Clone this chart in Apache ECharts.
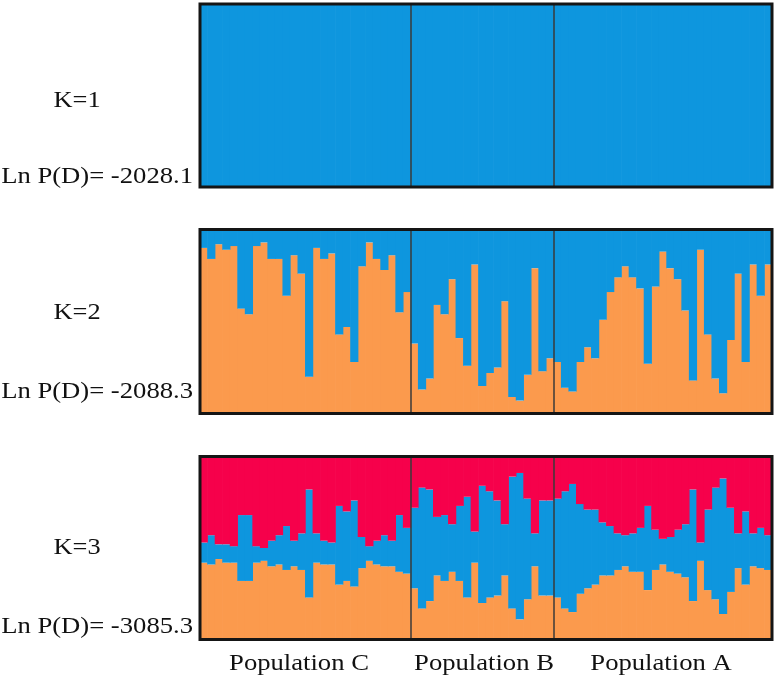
<!DOCTYPE html>
<html>
<head>
<meta charset="utf-8">
<script src="https://cdn.jsdelivr.net/npm/echarts@6/dist/echarts.min.js"></script>
<style>
  html, body { margin: 0; background: #fff; }
  #chart { width: 779px; height: 683px; }
</style>
</head>
<body>
<div id="chart"></div>
<script>
// individuals per population, left to right
const populations = ['Population C', 'Population B', 'Population A'];
const popSizes = [28, 19, 29];
const kLabels = ['K=1', 'K=2', 'K=3'];
const lnPD = ['Ln P(D)= -2028.1', 'Ln P(D)= -2088.3', 'Ln P(D)= -3085.3'];

// K=1 : single cluster
const k1Blue = [
  1,1,1,1,1,1,1,1,1,1,1,1,1,1,1,1,1,1,1,1,1,1,1,1,1,1,1,1,
  1,1,1,1,1,1,1,1,1,1,1,1,1,1,1,1,1,1,1,
  1,1,1,1,1,1,1,1,1,1,1,1,1,1,1,1,1,1,1,1,1,1,1,1,1,1,1,1,1
];

// K=2 membership
const k2Orange = [
  0.90,0.84,0.92,0.89,0.91,0.57,0.54,0.91,0.93,0.84,0.84,0.64,0.86,0.76,0.20,0.90,0.84,0.87,0.43,0.47,0.28,0.80,0.93,0.84,0.78,0.86,0.55,0.66,
  0.38,0.13,0.19,0.59,0.54,0.73,0.41,0.26,0.81,0.15,0.22,0.25,0.61,0.09,0.07,0.21,0.79,0.23,0.30,
  0.28,0.14,0.12,0.28,0.36,0.30,0.51,0.66,0.74,0.80,0.74,0.68,0.27,0.69,0.88,0.79,0.73,0.56,0.18,0.89,0.43,0.19,0.11,0.40,0.76,0.28,0.81,0.64,0.81
];
const k2Blue = [
  0.10,0.16,0.08,0.11,0.09,0.43,0.46,0.09,0.07,0.16,0.16,0.36,0.14,0.24,0.80,0.10,0.16,0.13,0.57,0.53,0.72,0.20,0.07,0.16,0.22,0.14,0.45,0.34,
  0.62,0.87,0.81,0.41,0.46,0.27,0.59,0.74,0.19,0.85,0.78,0.75,0.39,0.91,0.93,0.79,0.21,0.77,0.70,
  0.72,0.86,0.88,0.72,0.64,0.70,0.49,0.34,0.26,0.20,0.26,0.32,0.73,0.31,0.12,0.21,0.27,0.44,0.82,0.11,0.57,0.81,0.89,0.60,0.24,0.72,0.19,0.36,0.19
];

// K=3 membership
const k3Orange = [
  0.42,0.41,0.44,0.42,0.42,0.32,0.32,0.42,0.43,0.40,0.41,0.38,0.40,0.38,0.23,0.42,0.41,0.41,0.30,0.32,0.29,0.39,0.43,0.41,0.40,0.40,0.37,0.36,
  0.28,0.17,0.21,0.35,0.32,0.37,0.32,0.23,0.42,0.20,0.23,0.24,0.35,0.17,0.11,0.22,0.40,0.24,0.24,
  0.23,0.17,0.15,0.25,0.28,0.30,0.35,0.35,0.38,0.40,0.37,0.37,0.27,0.38,0.41,0.37,0.36,0.34,0.21,0.43,0.27,0.22,0.14,0.26,0.39,0.30,0.40,0.39,0.38
];
const k3Blue = [
  0.11,0.16,0.08,0.10,0.09,0.36,0.36,0.09,0.07,0.14,0.16,0.24,0.14,0.20,0.59,0.16,0.13,0.12,0.43,0.38,0.47,0.17,0.08,0.13,0.17,0.14,0.31,0.25,
  0.44,0.66,0.61,0.32,0.36,0.26,0.41,0.55,0.17,0.64,0.58,0.52,0.28,0.72,0.80,0.55,0.18,0.52,0.52,
  0.54,0.64,0.70,0.49,0.43,0.41,0.29,0.27,0.20,0.17,0.21,0.24,0.46,0.22,0.14,0.19,0.24,0.29,0.61,0.10,0.44,0.61,0.74,0.46,0.19,0.40,0.18,0.22,0.19
];
const k3Red = [
  0.47,0.43,0.48,0.48,0.49,0.32,0.32,0.49,0.50,0.46,0.43,0.38,0.46,0.42,0.18,0.42,0.46,0.47,0.27,0.30,0.24,0.44,0.49,0.46,0.43,0.46,0.32,0.39,
  0.28,0.17,0.18,0.33,0.32,0.37,0.27,0.22,0.41,0.16,0.19,0.24,0.37,0.11,0.09,0.23,0.42,0.24,0.24,
  0.23,0.19,0.15,0.26,0.29,0.29,0.36,0.38,0.42,0.43,0.42,0.39,0.27,0.40,0.45,0.44,0.40,0.37,0.18,0.47,0.29,0.17,0.12,0.28,0.42,0.30,0.42,0.39,0.43
];

const BLUE = '#0e96de', ORANGE = '#fb9a4d', RED = '#f6014b';

const nInd = popSizes.reduce((a, b) => a + b, 0);
const ids = k1Blue.map((v, i) => String(i + 1));
// population boundaries (28, 47)
const bounds = [];
let acc = 0;
for (let i = 0; i < popSizes.length - 1; i++) { acc += popSizes[i]; bounds.push(acc); }

const panelTops = [4, 229.5, 456.5];
const panelHeights = [183, 184, 183];

const chart = echarts.init(document.getElementById('chart'));

const grids = panelTops.map((t, i) => ({
  left: 200, right: 7, top: t, height: panelHeights[i],
  show: true, z: 10,
  backgroundColor: 'transparent',
  borderColor: '#151515', borderWidth: 3
}));

const xAxes = [], yAxes = [];
panelTops.forEach((t, i) => {
  xAxes.push({ type: 'category', gridIndex: i, data: ids, show: false, boundaryGap: true });
  xAxes.push({ type: 'value', gridIndex: i, min: 0, max: nInd, show: false });
  yAxes.push({ type: 'value', gridIndex: i, min: 0, max: 1, show: false });
});

// bars slightly wider than a category so neighbours overlap (no seams)
const bar = (data, color, panel) => ({
  type: 'bar', data: data, stack: 'q' + panel,
  xAxisIndex: panel * 2, yAxisIndex: panel,
  barWidth: 8.2, silent: true,
  itemStyle: { color: color }
});

const series = [
  bar(k1Blue, BLUE, 0),
  bar(k2Orange, ORANGE, 1), bar(k2Blue, BLUE, 1),
  bar(k3Orange, ORANGE, 2), bar(k3Blue, BLUE, 2), bar(k3Red, RED, 2)
];
// population dividers
panelTops.forEach((t, i) => {
  series.push({
    type: 'line', data: [], xAxisIndex: i * 2 + 1, yAxisIndex: i, z: 5,
    markLine: {
      silent: true, symbol: 'none', label: { show: false },
      lineStyle: { color: '#3a3a3a', width: 1.5, type: 'solid' },
      data: bounds.map(b => ({ xAxis: b }))
    }
  });
});

const txt = (s, x, y, align, sx) => ({
  type: 'text', x: x, y: y, scaleX: sx,
  style: { text: s, x: 0, y: 0, align: align, verticalAlign: 'middle',
    font: '24px "Liberation Serif", "Times New Roman", serif', fill: '#111' }
});
const graphic = [];
const kY = [101, 313, 548], lnY = [177, 392, 627];
kLabels.forEach((k, i) => {
  graphic.push(txt(k, 77, kY[i], 'center', 1.1));
  graphic.push(txt(lnPD[i], 193, lnY[i], 'right', 1.11));
});
const popX = [299, 484, 661];
populations.forEach((p, i) => graphic.push(txt(p, popX[i], 664, 'center', 1.11)));

chart.setOption({
  animation: false,
  grid: grids,
  xAxis: xAxes,
  yAxis: yAxes,
  series: series,
  graphic: graphic
});
</script>
</body>
</html>
